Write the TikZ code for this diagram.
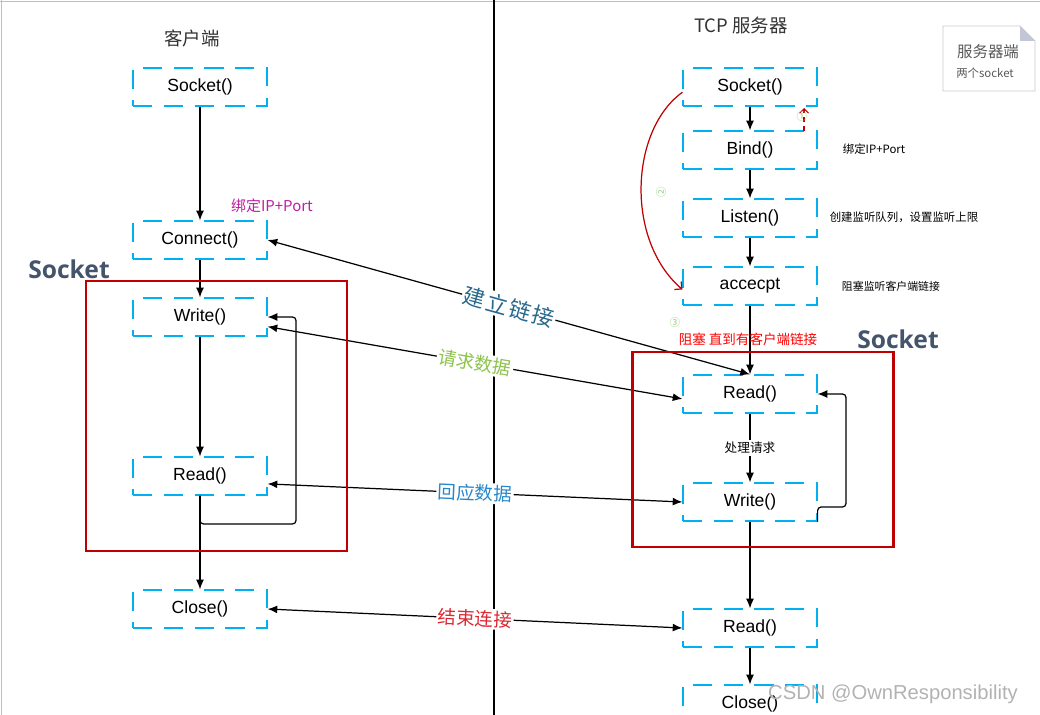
\documentclass[tikz,border=0pt]{standalone}
\usepackage{fontspec}
\setmainfont{Liberation Sans}
\newfontfamily\cjk{Noto Sans CJK SC}
\newfontfamily\segoe{Open Sans}
\usepackage{tikz}
\usetikzlibrary{arrows.meta}

\definecolor{boxblue}{RGB}{0,176,240}
\definecolor{framered}{RGB}{192,0,0}
\definecolor{socketgray}{RGB}{68,84,106}
\definecolor{linkteal}{RGB}{40,105,140}
\definecolor{askgreen}{RGB}{140,195,75}
\definecolor{replyblue}{RGB}{40,135,200}
\definecolor{endred}{RGB}{220,40,50}
\definecolor{bindpink}{RGB}{190,30,160}
\definecolor{numgreen}{RGB}{150,205,120}
\definecolor{notegray}{RGB}{200,200,210}
\definecolor{notefold}{RGB}{195,198,212}
\definecolor{notetext}{RGB}{89,89,89}

\begin{document}
\begin{tikzpicture}[x=0.02cm, y=-0.02cm, >={Latex[length=5.5pt,width=4.5pt]},
  box/.style={draw=boxblue, dash pattern=on 11pt off 6.5pt, line width=0.7pt, minimum width=2.68cm, minimum height=0.76cm, inner sep=0, font=\fontsize{10}{12}\selectfont},
  flow/.style={->, line width=0.7pt},
  talk/.style={<->, line width=0.7pt},
  tag/.style={fill=white, inner sep=1pt, sloped, font=\cjk\fontsize{10.5}{12}\selectfont},
  frame/.style={draw=framered, line width=1.7pt},
  hint/.style={font=\cjk\fontsize{6.5}{8}\selectfont},
  circnum/.style={text=numgreen, inner sep=0, font=\cjk\fontsize{6}{7}\selectfont},
  sockettitle/.style={text=socketgray, font=\segoe\bfseries\fontsize{14}{16}\selectfont}]

\useasboundingbox (0,0) rectangle (1040,715);
\draw[gray!50] (0,1) -- (1040,1);
\draw[gray!50] (1,0) -- (1,715);
\draw[line width=1.2pt] (494,0) -- (494,715);

\node[font=\cjk\fontsize{10.5}{12}\selectfont, text=black!80] (clientTitle) at (192,38) {客户端};
\node[font=\cjk\fontsize{10.5}{12}\selectfont, text=black!80] (serverTitle) at (741,25) {TCP 服务器};

\node[box] (clientSocket)  at (200,87)  {Socket()};
\node[box] (clientConnect) at (200,240) {Connect()};
\node[box] (clientWrite)   at (200,317) {Write()};
\node[box] (clientRead)    at (200,476) {Read()};
\node[box] (clientClose)   at (200,609) {Close()};

\node[box] (serverSocket)  at (750,87)  {Socket()};
\node[box] (serverBind)    at (750,150) {Bind()};
\node[box] (serverListen)  at (750,218) {Listen()};
\node[box] (serverAccept)  at (750,286) {accecpt};
\node[box] (serverRead)    at (750,394) {Read()};
\node[box] (serverWrite)   at (750,502) {Write()};
\node[box] (serverReadEnd) at (750,628) {Read()};
\node[box] (serverClose)   at (750,704) {Close()};

\draw [flow] (clientSocket)  edge (clientConnect);
\draw [flow] (clientConnect) edge (clientWrite);
\draw [flow] (clientWrite)   edge (clientRead);
\draw [flow] (clientRead)    edge (clientClose);
\draw [flow, rounded corners=2pt] (clientRead.south) |- (296,524) |- (clientWrite.east);

\draw [flow] (serverSocket)  edge (serverBind);
\draw [flow] (serverBind)    edge (serverListen);
\draw [flow] (serverListen)  edge (serverAccept);
\draw [flow] (serverAccept)  edge (serverRead);
\draw [flow] (serverRead)    edge node[fill=white, inner sep=1pt, font=\cjk\fontsize{7.2}{9}\selectfont] (handleTag) {处理请求} (serverWrite);
\draw [flow] (serverWrite)   edge (serverReadEnd);
\draw [flow] (serverReadEnd) edge (serverClose);
\draw [flow, rounded corners=2pt] (serverWrite.south east) |- (846,507) |- (serverRead.east);

\draw [talk] (clientConnect.east) -- node[tag, text=linkteal, font=\cjk\fontsize{12.5}{15}\selectfont] (linkTag) {建\kern1pt 立\kern1pt 链\kern1pt 接} (serverRead.north);
\draw [talk] ([yshift=-5.5pt]clientWrite.east) -- node[tag, text=askgreen] (askTag) {请求数据} ([yshift=-2.8pt]serverRead.west);
\draw [talk] ([yshift=-4.5pt]clientRead.east) -- node[tag, text=replyblue] (replyTag) {回应数据} (serverWrite.west);
\draw [talk] (clientClose.east) -- node[tag, text=endred] (endTag) {结束连接} (serverReadEnd.west);

\draw [framered, line width=0.7pt, -{Straight Barb[length=3pt,width=6pt]}] ([yshift=-3pt]serverSocket.west) .. controls (630,130) and (625,240) .. ([yshift=-2pt]serverAccept.west);
\coordinate (markFrom) at (804,131);
\coordinate (markTo) at (804,108);
\draw [framered, line width=0.6pt, densely dashed, -{Straight Barb[length=2.5pt,width=5pt]}] (markFrom) -- (markTo);

\node[circnum] (numOne)   at (802,117) {①};
\node[circnum, rotate=90] (numTwo) at (661,192) {②};
\node[circnum] (numThree) at (675,322) {③};

\draw[frame] (86,281) rectangle (347,551);
\draw[frame] (632,352) rectangle (893,547);
\node[sockettitle] (clientSocketTitle) at (69,269) {Socket};
\node[sockettitle] (serverSocketTitle) at (898,339) {Socket};

\node[font=\cjk\fontsize{8.5}{10}\selectfont, text=bindpink] (clientBindNote) at (272,206) {绑定IP+Port};
\node[hint] (bindNote)   at (874,149) {绑定IP+Port};
\node[hint] (listenNote) at (904,217) {创建监听队列，设置监听上限};
\node[hint, font=\cjk\fontsize{6.2}{8}\selectfont] (acceptNote) at (891,286) {阻塞监听客户端链接};
\node[font=\cjk\fontsize{7.7}{9}\selectfont, text=red] (blockNote) at (748,339) {阻塞 直到有客户端链接};

\draw[notegray] (943,26) -- (1020,26) -- (1035,41) -- (1035,91) -- (943,91) -- cycle;
\fill[notefold] (1020,26) -- (1020,41) -- (1035,41) -- cycle;
\node[font=\cjk\fontsize{8.8}{10}\selectfont, text=notetext] (noteTitle) at (988,52) {服务器端};
\node[font=\cjk\fontsize{6.5}{8}\selectfont, text=notetext] (noteText) at (985,73) {两个socket};

\node[text=gray!60, font=\fontsize{11.5}{14}\selectfont] (watermark) at (893,694) {CSDN @OwnResponsibility};
\end{tikzpicture}
\end{document}
